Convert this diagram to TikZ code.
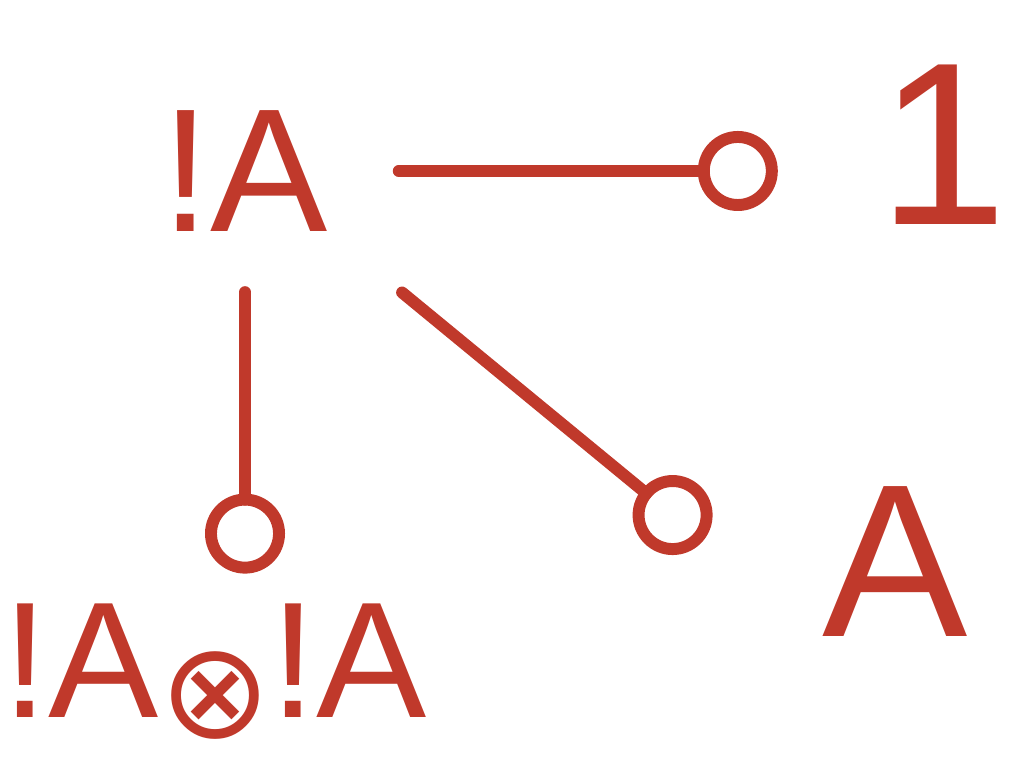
\documentclass[tikz,border=0pt]{standalone}
\usepackage{fontspec}
\setmainfont{Liberation Sans}
\newfontfamily\opfont{DejaVu Sans}
\usetikzlibrary{positioning, arrows.meta}
\definecolor{ink}{RGB}{192,57,43}

\begin{document}
\begin{tikzpicture}[
		term/.style={text=ink, inner sep=0pt, font=\fontsize{#1}{#1}\selectfont},
		term/.default=50,
		lolli/.style={draw=ink, line width=3.4pt, line cap=round,
			-{Circle[open, length=8mm, width=8mm]}}
		]
		\useasboundingbox (0,0) rectangle (10.23,7.66);
		
		% Terms
		\node[term] (bang) at (2.45,5.95) {!A};
		\node[term=66] (one) at (9.43,6.21) {1};
		\node[term=62] (plain) at (8.95,2.04) {A};
		\node[term=47] (pair) at (2.15,0.94) {!A\raisebox{-0.12em}{\opfont\fontsize{38}{38}\selectfont ⊗}!A};
		
		% Lollipop connectors
		\draw[lolli, shorten <=7mm, shorten >=10mm] (bang.east) -- (bang.east -| one.west);
		\draw[lolli, shorten <=9.5mm, shorten >=15.3mm] (bang.south east) -- (plain.south west);
		\draw[lolli, shorten <=6mm, shorten >=3mm] (bang.south) -- (bang.south |- pair.north);
		
	\end{tikzpicture}
\end{document}
